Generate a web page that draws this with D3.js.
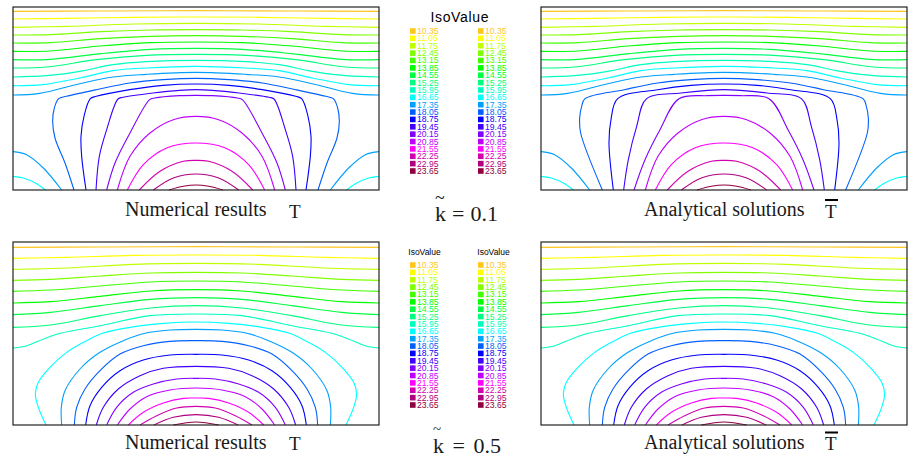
<!DOCTYPE html>
<html lang="en">
<head>
<meta charset="utf-8">
<title>IsoValue</title>
<script src="https://cdn.jsdelivr.net/npm/d3@7"></script>
<style>
    html, body { margin: 0; background: #fff; }
    svg { display: block; }
</style>
</head>
<body>
<svg width="920" height="460"></svg>
<script>
// isolines, plate grid: x 0..1098 (only the left half, plate is symmetric), y 0..549 up from the bottom
var levels = ["10.35","11.05","11.75","12.45","13.15","13.85","14.55","15.25","15.95","16.65","17.35","18.05","18.75","19.45","20.15","20.85","21.55","22.25","22.95","23.65"];
var levelColors = ["#ffc61e","#ffff00","#bfff00","#80ff00","#40ff00","#00ff00","#00ff40","#00ff80","#00ffbf","#00ffff","#00a0ff","#0060ff","#0000ff","#4000ff","#8000ff","#bf00ff","#ff00ff","#d000b0","#b00080","#900040"];

var lines01 = [
    [[0,536],[262,537],[549,538]],
    [[0,513],[162,515],[362,518],[549,519]],
    [[0,488],[162,491],[362,498],[549,500]],
    [[0,465],[112,466],[262,475],[412,480],[549,481]],
    [[0,441],[112,442],[262,454],[412,461],[549,463]],
    [[0,416],[112,417],[262,432],[412,442],[549,444]],
    [[0,391],[112,392],[262,409],[412,422],[549,425]],
    [[0,366],[100,369],[250,391],[400,404],[549,407]],
    [[0,339],[100,343],[200,356],[300,376],[400,385],[549,389]],
    [[0,313],[90,316],[200,336],[300,358],[400,366],[549,371]],
    [[0,285],[80,290],[200,319],[300,339],[400,347],[549,353]],
    [[183,0],[156,81],[126,156],[119,206],[124,246],[137,274],[160,281],[250,301],[350,321],[450,331],[549,335]],
    [[219,0],[206,101],[204,161],[213,221],[232,274],[250,281],[350,301],[450,314],[549,318]],
    [[249,0],[259,101],[281,181],[315,273],[330,278],[420,291],[500,299],[549,301]],
    [[281,0],[306,81],[351,171],[410,271],[425,276],[500,283],[549,284]],
    [[313,0],[351,101],[411,171],[481,211],[549,221]],
    [[343,0],[391,76],[461,126],[549,141]],
    [[379,0],[441,56],[511,86],[549,89]],
    [[421,0],[481,36],[549,48]],
    [[468,0],[511,11],[549,15]]
];
// the analytical k = 0.1 plate has sharper corners on these four levels
var analytic01 = [
    [[184,0],[119,171],[116,216],[122,251],[132,274],[250,301],[350,321],[450,331],[549,335]],
    [[217,0],[204,141],[210,211],[230,274],[350,301],[450,314],[549,318]],
    [[248,0],[262,91],[287,191],[317,274],[420,291],[500,299],[549,301]],
    [[279,0],[312,91],[357,181],[414,274],[500,283],[549,284]]
];
var corner01 = [
    [[0,115],[41,106],[91,66],[146,0]],
    [[0,41],[31,36],[71,19],[97,0]]
];
var cornerLevels01 = [10, 9];

var lines05 = [
    [[0,533],[262,534],[549,535]],
    [[0,500],[162,503],[362,509],[549,510]],
    [[0,467],[162,471],[362,482],[549,485]],
    [[0,434],[112,437],[262,447],[412,456],[549,458]],
    [[0,401],[112,405],[262,417],[412,429],[549,432]],
    [[0,366],[112,370],[262,386],[412,402],[549,406]],
    [[0,331],[112,338],[262,358],[412,377],[549,382]],
    [[0,293],[112,300],[262,328],[412,351],[549,358]],
    [[0,231],[42,238],[92,258],[142,275],[262,298],[412,328],[549,333]],
    [[99,0],[76,53],[67,93],[76,128],[111,173],[161,218],[221,253],[269,275],[351,293],[451,305],[549,309]],
    [[146,0],[145,53],[156,103],[201,168],[261,218],[331,253],[396,275],[471,285],[549,287]],
    [[184,0],[191,53],[216,108],[261,163],[321,213],[391,238],[471,251],[549,253]],
    [[218,0],[231,58],[266,113],[321,163],[391,195],[471,210],[549,212]],
    [[250,0],[271,53],[316,108],[381,148],[451,170],[549,176]],
    [[281,0],[311,53],[361,98],[421,123],[491,138],[549,140]],
    [[313,0],[351,48],[401,85],[471,105],[549,111]],
    [[346,0],[391,38],[451,66],[511,80],[549,81]],
    [[381,0],[431,28],[491,51],[549,56]],
    [[423,0],[481,23],[549,31]],
    [[481,0],[549,9]]
];

var analyticLines01 = lines01.slice(0, 11).concat(analytic01, lines01.slice(15));

var panels = [
    { x: 13, y: 7, lines: lines01, corners: corner01 },
    { x: 541, y: 7, lines: analyticLines01, corners: corner01 },
    { x: 13, y: 242, lines: lines05, corners: [] },
    { x: 541, y: 242, lines: lines05, corners: [] }
];

var svg = d3.select("svg");
var xScale = d3.scaleLinear().domain([0, 1098]).range([0, 366]);
var yScale = d3.scaleLinear().domain([0, 549]).range([183, 0]);
var line = d3.line()
    .x(function (d) { return xScale(d[0]); })
    .y(function (d) { return yScale(d[1]); })
    .curve(d3.curveCatmullRom.alpha(0.5));

// left half then its mirror image
function mirrored(pts) {
    var right = pts.slice(0, -1).reverse().map(function (p) { return [1098 - p[0], p[1]]; });
    return pts.concat(right);
}

panels.forEach(function (p) {
    var g = svg.append("g").attr("transform", "translate(" + p.x + "," + p.y + ")");
    g.selectAll("path.iso")
        .data(p.lines)
        .enter()
        .append("path")
        .attr("class", "iso")
        .attr("d", function (d) { return line(mirrored(d)); })
        .attr("fill", "none")
        .attr("stroke-width", 1.1)
        .attr("stroke", function (d, i) { return levelColors[i]; });
    p.corners.forEach(function (c, i) {
        [c, c.map(function (q) { return [1098 - q[0], q[1]]; })].forEach(function (pts) {
            g.append("path")
                .attr("d", line(pts))
                .attr("fill", "none")
                .attr("stroke-width", 1.1)
                .attr("stroke", levelColors[cornerLevels01[i]]);
        });
    });
    g.append("rect")
        .attr("width", 366)
        .attr("height", 183)
        .attr("fill", "none")
        .attr("stroke", "#222")
        .attr("stroke-width", 1.2);
});

// legends
var sans = "'Liberation Sans', Arial, sans-serif";
var serif = "'Liberation Serif', 'Times New Roman', serif";
var rowTop = d3.scalePoint().domain(levels).range([31, 171]);
var rowBottom = d3.scalePoint().domain(levels).range([265, 405]);

function legend(x, rows) {
    var g = svg.append("g").attr("transform", "translate(" + x + ",0)");
    g.selectAll("rect")
        .data(levels)
        .enter()
        .append("rect")
        .attr("x", 0)
        .attr("y", function (d) { return rows(d) - 2.8; })
        .attr("width", 5.6)
        .attr("height", 5.6)
        .attr("fill", function (d, i) { return levelColors[i]; });
    g.selectAll("text")
        .data(levels)
        .enter()
        .append("text")
        .attr("x", 7)
        .attr("y", function (d) { return rows(d) + 3; })
        .attr("font-family", sans)
        .attr("font-size", 8.6)
        .attr("fill", function (d, i) { return levelColors[i]; })
        .text(function (d) { return d; });
}
legend(410, rowTop);
legend(478, rowTop);
legend(410, rowBottom);
legend(478, rowBottom);

function label(x, y, str, size, family, anchor) {
    return svg.append("text")
        .attr("x", x)
        .attr("y", y)
        .attr("font-family", family)
        .attr("font-size", size)
        .attr("text-anchor", anchor || "start")
        .attr("fill", "#1a1a1a")
        .text(str);
}
label(459.5, 22, "IsoValue", 14, sans, "middle").attr("fill", "#000").attr("textLength", 58);
label(424.5, 255, "IsoValue", 8.5, sans, "middle").attr("fill", "#000");
label(493.5, 255, "IsoValue", 8.5, sans, "middle").attr("fill", "#000");

// captions
[[216, 199], [448.5, 431.5]].forEach(function (c) {
    label(125, c[0], "Numerical results", 20, serif);
    label(289, c[0] + 1.5, "T", 19, serif);
    label(644, c[0], "Analytical solutions", 20, serif);
    label(825, c[0] + 1.5, "T", 19, serif);
    svg.append("rect").attr("x", 825).attr("y", c[1]).attr("width", 13).attr("height", 2).attr("fill", "#000");
});
label(435, 221, "k = 0.1", 22, serif).attr("word-spacing", 0.5);
label(435, 204, "~", 18, serif);
label(433, 452.5, "k = 0.5", 22, serif).attr("word-spacing", 3);
label(433, 434, "~", 15, serif);
</script>
</body>
</html>
